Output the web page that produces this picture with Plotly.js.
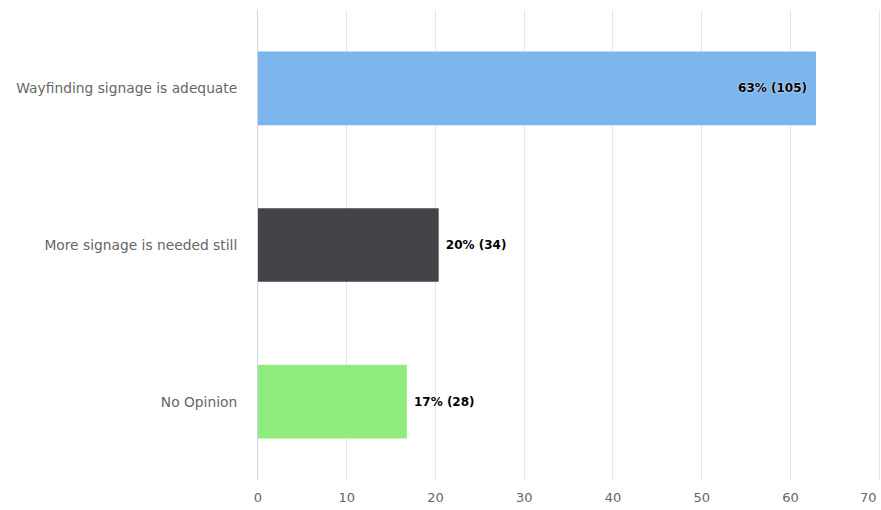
<!DOCTYPE html>
<html>
<head>
<meta charset="utf-8">
<script src="https://cdn.plot.ly/plotly-3.0.1.min.js"></script>
<style>html,body{margin:0;padding:0;background:#fff;}#chart{width:881px;height:510px;}</style>
</head>
<body>
<div id="chart"></div>
<script>
const categories = ["Wayfinding signage is adequate", "More signage is needed still", "No Opinion"];
const counts = [105, 34, 28];
const colors = ["#7cb5ec", "#434348", "#90ed7d"];
const xTicks = [0, 10, 20, 30, 40, 50, 60, 70];

const total = counts.reduce((a, b) => a + b, 0);
const percents = counts.map(c => c / total * 100);
const positions = ["inside", "outside", "outside"];
const labels = counts.map((c, i) => {
  const t = Math.round(percents[i]) + "% (" + c + ")";
  return positions[i] === "inside" ? t + "\u2002" : "\u00a0" + t;
});

const lblFont = {family: "DejaVu Sans, sans-serif", size: 12, color: "#000", weight: "bold", shadow: "0px 0px 2px #fff"};

const trace = {
  type: "bar",
  orientation: "h",
  y: categories,
  x: percents,
  marker: {color: colors, line: {width: 0}},
  width: 0.47,
  text: labels,
  textposition: positions,
  insidetextanchor: "end",
  constraintext: "none",
  cliponaxis: false,
  textfont: lblFont,
  insidetextfont: lblFont,
  outsidetextfont: lblFont,
  hoverinfo: "none"
};

// the last tick label is right-aligned at the page edge (as in the reference), so it is drawn as an annotation
const lastTick = xTicks[xTicks.length - 1];
const tickText = xTicks.map((v, i) => i === xTicks.length - 1 ? "" : String(v));

const layout = {
  width: 881,
  height: 510,
  margin: {l: 258, r: 0, t: 10, b: 30},
  paper_bgcolor: "#fff",
  plot_bgcolor: "#fff",
  showlegend: false,
  font: {family: "DejaVu Sans, sans-serif", size: 13, color: "#666"},
  xaxis: {
    range: [0, 70.2],
    tickvals: xTicks,
    ticktext: tickText,
    showgrid: true,
    gridcolor: "#e6e6e6",
    gridwidth: 1,
    zeroline: false,
    showline: false,
    ticks: "",
    ticklabelstandoff: 8,
    tickfont: {size: 13, color: "#666"},
    fixedrange: true
  },
  yaxis: {
    type: "category",
    autorange: "reversed",
    showgrid: false,
    zeroline: false,
    showline: true,
    linecolor: "#ccd6eb",
    linewidth: 1,
    ticks: "",
    ticklabelstandoff: 17,
    tickfont: {size: 13.8, color: "#666"},
    fixedrange: true
  },
  annotations: [{
    x: lastTick, xref: "x",
    y: 0, yref: "paper",
    text: String(lastTick),
    showarrow: false,
    xanchor: "right", yanchor: "top",
    xshift: 0, yshift: -8,
    font: {size: 13, color: "#666"}
  }]
};

Plotly.newPlot("chart", [trace], layout, {displayModeBar: false, staticPlot: true});
</script>
</body>
</html>
